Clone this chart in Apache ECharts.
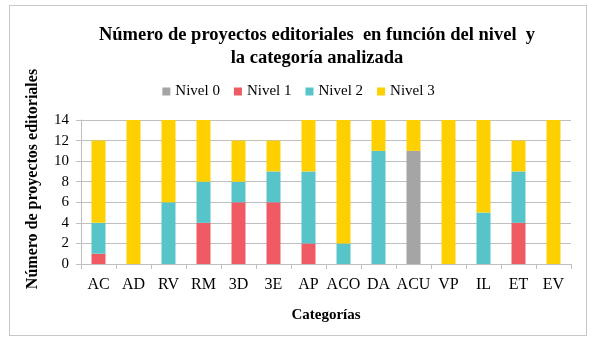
<!DOCTYPE html>
<html>
<head>
<meta charset="utf-8">
<script src="https://cdn.jsdelivr.net/npm/echarts@6/dist/echarts.min.js"></script>
<style>
  html, body { margin: 0; padding: 0; background: #fff; }
  #frame { position: absolute; left: 9px; top: 5px; width: 576px; height: 329px; border: 1px solid #c8c8c8; }
  #main { position: absolute; left: 0; top: 0; width: 597px; height: 344px; }
</style>
</head>
<body>
<div id="frame"></div>
<div id="main"></div>
<script>
// datos
const categorias = ['AC', 'AD', 'RV', 'RM', '3D', '3E', 'AP', 'ACO', 'DA', 'ACU', 'VP', 'IL', 'ET', 'EV'];
const nivel0 = [0, 0, 0, 0, 0, 0, 0, 0, 0, 11, 0, 0, 0, 0];
const nivel1 = [1, 0, 0, 4, 6, 6, 2, 0, 0, 0, 0, 0, 4, 0];
const nivel2 = [3, 0, 6, 4, 2, 3, 7, 2, 11, 0, 0, 5, 5, 0];
const nivel3 = [8, 14, 8, 6, 4, 3, 5, 12, 3, 3, 14, 9, 3, 14];
const nombres = ['Nivel 0', 'Nivel 1', 'Nivel 2', 'Nivel 3'];
const colores = ['#A5A5A5', '#F05A63', '#56C4C9', '#FFD000'];

const fuente = '"Liberation Serif", "DejaVu Serif", serif';
const chart = echarts.init(document.getElementById('main'));

const serie = (nombre, datos, color) => ({
    name: nombre,
    type: 'bar',
    stack: 'total',
    barWidth: '40%',
    itemStyle: { color: color },
    data: datos
});

const option = {
    animation: false,
    textStyle: { fontFamily: fuente },
    title: {
        text: 'Número de proyectos editoriales  en función del nivel  y\nla categoría analizada',
        left: 312,
        top: 19,
        textAlign: 'center',
        textStyle: { fontFamily: fuente, fontSize: 18.5, fontWeight: 'bold', color: '#000', lineHeight: 23 }
    },
    legend: {
        top: 79,
        left: 'center',
        itemWidth: 8,
        itemHeight: 8,
        itemGap: 14,
        icon: 'rect',
        textStyle: { fontFamily: fuente, fontSize: 15, color: '#000' },
        data: nombres
    },
    grid: { left: 81, right: 26, top: 120, bottom: 80, containLabel: false },
    xAxis: {
        type: 'category',
        data: categorias,
        name: 'Categorías',
        nameLocation: 'middle',
        nameGap: 44,
        nameTextStyle: { fontFamily: fuente, fontSize: 15, fontWeight: 'bold', color: '#000' },
        axisLine: { lineStyle: { color: '#bfbfbf' } },
        axisTick: { show: true, length: 5, lineStyle: { color: '#bfbfbf' } },
        axisLabel: { interval: 0, fontFamily: fuente, fontSize: 16, color: '#000', margin: 13 }
    },
    yAxis: {
        type: 'value',
        min: 0,
        max: 14,
        interval: 2,
        name: 'Número de proyectos editoriales',
        nameLocation: 'middle',
        nameGap: 40,
        nameTextStyle: { fontFamily: fuente, fontSize: 16, fontWeight: 'bold', color: '#000', padding: [0, 0, 0, 26] },
        axisLine: { show: true, lineStyle: { color: '#bfbfbf' } },
        axisTick: { show: true, length: 5, lineStyle: { color: '#bfbfbf' } },
        axisLabel: { fontFamily: fuente, fontSize: 15, color: '#000', margin: 12 },
        splitLine: { lineStyle: { color: '#bfbfbf' } }
    },
    series: [
        serie(nombres[0], nivel0, colores[0]),
        serie(nombres[1], nivel1, colores[1]),
        serie(nombres[2], nivel2, colores[2]),
        serie(nombres[3], nivel3, colores[3])
    ]
};

option && chart.setOption(option);
</script>
</body>
</html>
